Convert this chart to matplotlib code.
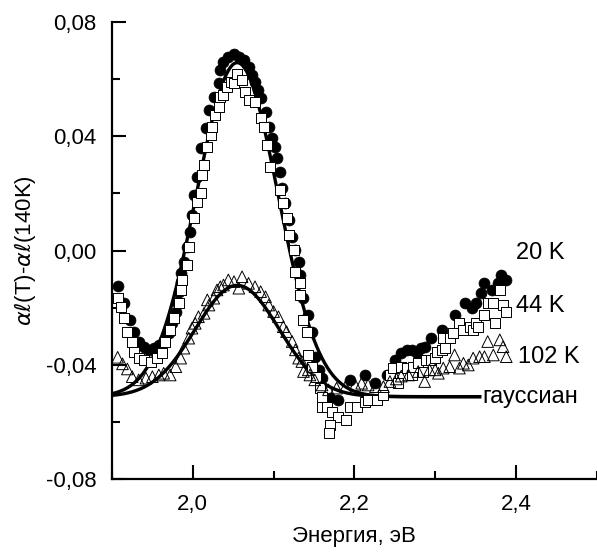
import numpy as np
import matplotlib.pyplot as plt
from matplotlib.ticker import FixedLocator, FixedFormatter, MultipleLocator

plt.rcParams['font.family'] = ['Liberation Sans', 'DejaVu Sans']
plt.rcParams['mathtext.fontset'] = 'dejavusans'

# 20 K, filled circles
x20 = [1.907, 1.915, 1.922, 1.927, 1.933, 1.940, 1.946, 1.952, 1.958, 1.964,
       1.970, 1.974, 1.979, 1.981, 1.983, 1.985, 1.986, 1.989, 1.993, 1.997,
       1.999, 2.001, 2.005, 2.010, 2.016, 2.020, 2.026, 2.032, 2.034, 2.038,
       2.044, 2.051, 2.057, 2.063, 2.069, 2.073, 2.077, 2.081, 2.084, 2.090,
       2.094, 2.098, 2.102, 2.104, 2.108, 2.110, 2.114, 2.119, 2.123, 2.127,
       2.131, 2.133, 2.137, 2.143, 2.147, 2.151, 2.156, 2.160, 2.170, 2.180,
       2.195, 2.213, 2.226, 2.240, 2.250, 2.258, 2.265, 2.271, 2.277, 2.283,
       2.287, 2.295, 2.308, 2.324, 2.337, 2.345, 2.351, 2.357, 2.361, 2.370,
       2.378, 2.382, 2.388]
y20 = [-0.0123, -0.0185, -0.0243, -0.0284, -0.0319, -0.0337, -0.0348, -0.0342, -0.0331, -0.0313,
       -0.0290, -0.0255, -0.0214, -0.0179, -0.0144, -0.0109, -0.0080, -0.0039, 0.0013, 0.0066,
       0.0124, 0.0194, 0.0258, 0.0358, 0.0428, 0.0492, 0.0538, 0.0585, 0.0632, 0.0661,
       0.0679, 0.0690, 0.0679, 0.0667, 0.0644, 0.0614, 0.0591, 0.0562, 0.0533, 0.0486,
       0.0433, 0.0393, 0.0363, 0.0323, 0.0276, 0.0218, 0.0165, 0.0107, 0.0048, 0.0002,
       -0.0039, -0.0086, -0.0167, -0.0226, -0.0284, -0.0372, -0.0418, -0.0447, -0.0517, -0.0523,
       -0.0453, -0.0436, -0.0465, -0.0436, -0.0383, -0.0360, -0.0348, -0.0348, -0.0360, -0.0342,
       -0.0337, -0.0307, -0.0278, -0.0226, -0.0185, -0.0202, -0.0185, -0.0150, -0.0115, -0.0138,
       -0.0115, -0.0086, -0.0103]

# 44 K, open squares
x44 = [1.907, 1.911, 1.915, 1.919, 1.925, 1.927, 1.933, 1.940, 1.948, 1.956,
       1.962, 1.966, 1.972, 1.977, 1.983, 1.985, 1.987, 1.993, 1.995, 2.001,
       2.005, 2.010, 2.011, 2.014, 2.018, 2.022, 2.024, 2.028, 2.032, 2.034,
       2.038, 2.042, 2.047, 2.051, 2.055, 2.061, 2.065, 2.069, 2.077, 2.084,
       2.088, 2.092, 2.096, 2.108, 2.112, 2.116, 2.119, 2.125, 2.127, 2.133,
       2.133, 2.137, 2.141, 2.143, 2.147, 2.153, 2.158, 2.160, 2.160, 2.166,
       2.172, 2.180, 2.190, 2.170, 2.168, 2.195, 2.203, 2.213, 2.217, 2.228,
       2.236, 2.244, 2.248, 2.254, 2.258, 2.265, 2.271, 2.273, 2.279, 2.285,
       2.289, 2.295, 2.300, 2.302, 2.308, 2.310, 2.312, 2.318, 2.322, 2.330,
       2.335, 2.343, 2.347, 2.351, 2.353, 2.361, 2.365, 2.372, 2.374, 2.380,
       2.384, 2.388]
y44 = [-0.0167, -0.0197, -0.0237, -0.0284, -0.0319, -0.0354, -0.0377, -0.0383, -0.0389, -0.0377,
       -0.0360, -0.0319, -0.0278, -0.0237, -0.0185, -0.0138, -0.0103, -0.0051, 0.0013, 0.0113,
       0.0171, 0.0200, 0.0264, 0.0299, 0.0363, 0.0404, 0.0433, 0.0474, 0.0503, 0.0538,
       0.0544, 0.0573, 0.0591, 0.0585, 0.0620, 0.0597, 0.0556, 0.0527, 0.0521, 0.0463,
       0.0433, 0.0369, 0.0293, 0.0212, 0.0165, 0.0113, 0.0054, 0.0002, -0.0074, -0.0115,
       -0.0156, -0.0243, -0.0284, -0.0366, -0.0407, -0.0442, -0.0482, -0.0512, -0.0547, -0.0547,
       -0.0564, -0.0582, -0.0593, -0.0611, -0.0638, -0.0547, -0.0547, -0.0529, -0.0523, -0.0523,
       -0.0506, -0.0436, -0.0412, -0.0465, -0.0407, -0.0412, -0.0436, -0.0407, -0.0395, -0.0424,
       -0.0383, -0.0383, -0.0377, -0.0354, -0.0348, -0.0307, -0.0342, -0.0307, -0.0290, -0.0255,
       -0.0278, -0.0267, -0.0278, -0.0255, -0.0267, -0.0226, -0.0185, -0.0185, -0.0255, -0.0138,
       -0.0191, -0.0214]

# 102 K, open triangles
x102 = [1.907, 1.913, 1.919, 1.925, 1.933, 1.942, 1.950, 1.958, 1.964, 1.972,
        1.979, 1.985, 1.989, 1.995, 1.999, 2.003, 2.007, 2.014, 2.018, 2.020,
        2.026, 2.030, 2.034, 2.038, 2.044, 2.051, 2.057, 2.061, 2.069, 2.077,
        2.084, 2.090, 2.094, 2.100, 2.106, 2.112, 2.116, 2.123, 2.127, 2.131,
        2.135, 2.137, 2.143, 2.145, 2.151, 2.160, 2.168, 2.178, 2.189, 2.201,
        2.209, 2.217, 2.226, 2.236, 2.244, 2.252, 2.258, 2.267, 2.279, 2.287,
        2.293, 2.300, 2.304, 2.310, 2.318, 2.324, 2.330, 2.335, 2.341, 2.347,
        2.355, 2.361, 2.365, 2.372, 2.380, 2.384, 2.388]
y102 = [-0.0374, -0.0397, -0.0415, -0.0442, -0.0453, -0.0447, -0.0442, -0.0436, -0.0430, -0.0436,
        -0.0407, -0.0377, -0.0342, -0.0307, -0.0272, -0.0255, -0.0232, -0.0220, -0.0173, -0.0191,
        -0.0167, -0.0138, -0.0127, -0.0121, -0.0103, -0.0109, -0.0132, -0.0092, -0.0115, -0.0127,
        -0.0144, -0.0162, -0.0191, -0.0214, -0.0232, -0.0267, -0.0284, -0.0319, -0.0348, -0.0377,
        -0.0389, -0.0424, -0.0418, -0.0436, -0.0453, -0.0471, -0.0488, -0.0482, -0.0477, -0.0471,
        -0.0465, -0.0471, -0.0477, -0.0477, -0.0459, -0.0450, -0.0440, -0.0436, -0.0424, -0.0459,
        -0.0418, -0.0418, -0.0430, -0.0412, -0.0407, -0.0366, -0.0412, -0.0395, -0.0401, -0.0377,
        -0.0372, -0.0372, -0.0319, -0.0366, -0.0313, -0.0337, -0.0372]

# gaussian fits: baseline, amplitude, centre, width
g_base = -0.0512
g20 = (0.117, 2.055, 0.0505)
g102 = (0.039, 2.055, 0.052)

xticks = [2.0, 2.2, 2.4]
xticklabels = ['2,0', '2,2', '2,4']
yticks = [-0.08, -0.04, 0.0, 0.04, 0.08]
yticklabels = ['-0,08', '-0,04', '0,00', '0,04', '0,08']

fig = plt.figure(figsize=(5.97, 5.53), dpi=100)
ax = fig.add_axes([0.1876, 0.134, 0.812, 0.826])

xg = np.linspace(1.9, 2.355, 400)
for amp, x0, sig in (g20, g102):
    ax.plot(xg, g_base + amp*np.exp(-(xg - x0)**2/(2*sig**2)), 'k-', lw=2.4, zorder=1)

ax.scatter(x20, y20, s=62, marker='o', c='black', edgecolors='black', linewidths=0.5, zorder=2)
ax.scatter(x44, y44, s=50, marker='s', c='white', edgecolors='black', linewidths=0.7, zorder=3)
ax.scatter(x102, y102, s=70, marker='^', facecolors='none', edgecolors='black', linewidths=0.7, zorder=4)

ax.text(2.40, -0.0009, '20 K', fontsize=17, va='center', ha='left')
ax.text(2.40, -0.0194, '44 K', fontsize=17, va='center', ha='left')
ax.text(2.402, -0.0373, '102 K', fontsize=17, va='center', ha='left')
ax.text(2.358, -0.0512, 'гауссиан', fontsize=17, va='center', ha='left')

ax.set_xlim(1.9, 2.5)
ax.set_ylim(-0.08, 0.08)
ax.xaxis.set_major_locator(FixedLocator(xticks))
ax.xaxis.set_major_formatter(FixedFormatter(xticklabels))
ax.xaxis.set_minor_locator(MultipleLocator(0.1))
ax.yaxis.set_major_locator(FixedLocator(yticks))
ax.yaxis.set_major_formatter(FixedFormatter(yticklabels))
ax.yaxis.set_minor_locator(MultipleLocator(0.02))

ax.spines['top'].set_visible(False)
ax.spines['right'].set_visible(False)
ax.spines['left'].set_linewidth(1.6)
ax.spines['bottom'].set_linewidth(1.6)
ax.tick_params(which='major', direction='in', length=10, width=1.5, labelsize=16, pad=11)
ax.tick_params(which='minor', direction='in', length=5.5, width=1.5)

ax.set_xlabel('Энергия, эВ', fontsize=16, labelpad=8)
ax.set_ylabel(r'$\alpha\ell$(T)-$\alpha\ell$(140K)', fontsize=16, labelpad=6)

fig.savefig('out.png', dpi=100)
